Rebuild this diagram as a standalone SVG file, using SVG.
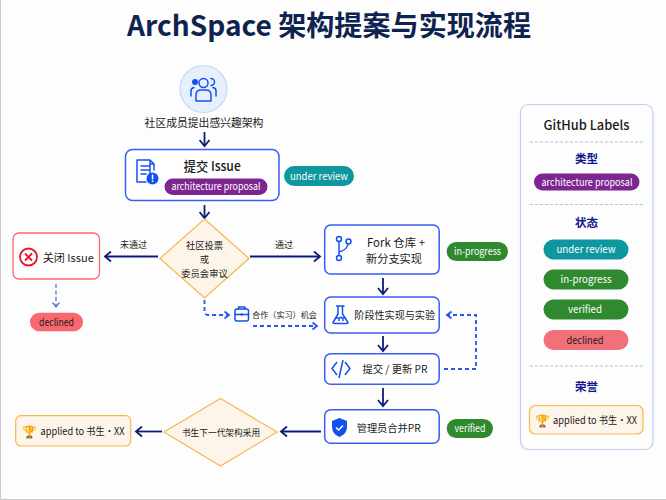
<svg xmlns="http://www.w3.org/2000/svg" width="666" height="500" viewBox="0 0 666 500">
<style>
text{font-family:"Noto Sans CJK SC","Noto Sans",sans-serif;text-anchor:middle;fill:#1a1a1a}
.box{fill:#fff;stroke:#3a5cf8;stroke-width:1.5}
.dia{fill:#fdf5ea;stroke:#f5b84a;stroke-width:1.2}
.ic{fill:none;stroke:#1450f0;stroke-width:1.5;stroke-linecap:round;stroke-linejoin:round}
.fl{stroke:#0f1a78;stroke-width:1.8;fill:none;marker-end:url(#a)}
.dash{stroke:#2a55f0;stroke-width:1.8;fill:none;stroke-dasharray:4 3;marker-end:url(#b)}
.pill{font-size:10px;fill:#fff}
.blk{font-size:10px}
.sec{font-size:11.500px;fill:#14148c;font-weight:700}
.sep{stroke:#a9c3ea;stroke-width:1;stroke-dasharray:3 2}
.cup{font-size:12px;font-family:"DejaVu Sans",sans-serif;fill:#e08a1e}
</style>
<defs>
<marker id="a" markerUnits="userSpaceOnUse" markerWidth="10" markerHeight="12" refX="7" refY="6" orient="auto"><path d="M1 1L7 6L1 11" fill="none" stroke="#0f1a78" stroke-width="1.8"/></marker>
<marker id="b" markerUnits="userSpaceOnUse" markerWidth="8" markerHeight="10" refX="6" refY="5" orient="auto"><path d="M1.500 1.500L6 5L1.500 8.500" fill="none" stroke="#2a55f0" stroke-width="1.800"/></marker>
<marker id="c" markerUnits="userSpaceOnUse" markerWidth="8" markerHeight="10" refX="6" refY="5" orient="auto"><path d="M1.500 1.500L6 5L1.500 8.500" fill="none" stroke="#5a78c8" stroke-width="1.300"/></marker>
</defs>
<rect width="666" height="500" fill="#fdfdfd"/>
<path d="M0.500 0V499.500H666" fill="none" stroke="#c8c8c8"/>
<text x="329" y="36" font-size="28" font-weight="700" style="fill:#0f2350" textLength="404" lengthAdjust="spacingAndGlyphs">ArchSpace 架构提案与实现流程</text>

<g id="connectors">
<path class="fl" d="M204.500 132V146"/>
<path class="fl" d="M204.500 205V218"/>
<path class="fl" d="M158 256.500H105"/>
<path class="fl" d="M250 256.500H320"/>
<path class="fl" d="M383 278V294"/>
<path class="fl" d="M383 336V351"/>
<path class="fl" d="M383 388V406"/>
<path class="fl" d="M321 431.500H281"/>
<path class="fl" d="M162 431.500H136"/>
<path d="M56 284V307" fill="none" stroke="#5a78c8" stroke-width="1.300" stroke-dasharray="4 2.500" marker-end="url(#c)"/>
<path class="dash" d="M204.500 300V311Q204.500 315 208 315H229"/>
<path class="dash" d="M253 326H317"/>
<path class="dash" d="M444 369H476V315H447"/>
</g>

<g id="n-community">
<circle cx="203.500" cy="89" r="23.500" fill="#e6f0fd" stroke="#c3d8f5" stroke-width="1.200"/>
<circle cx="203.500" cy="83" r="4.500" class="ic"/>
<circle cx="195" cy="82" r="3" fill="#1450f0"/>
<path class="ic" d="M211 78.500a3.500 3.500 0 0 1 0 7M196 101V95Q196 90 201 90H206Q211 90 211 95V101ZM191 96V91Q191 88 194 87.500M216 96V91Q216 88 213 87.500"/>
<text x="204" y="127" font-size="10.800">社区成员提出感兴趣架构</text>
</g>

<g id="n-issue">
<rect class="box" x="125.500" y="149.500" width="153.500" height="51" rx="7"/>
<path class="ic" d="M150 176V161Q137 161 137 161V183H146M150 161L154 165V171M150 161V165H154M141 167H149M141 171H149M141 175H146" transform="translate(0 -1)"/>
<circle cx="152.500" cy="178.500" r="6" fill="#1450f0"/>
<rect x="151.800" y="174.500" width="1.500" height="5" fill="#fff"/><rect x="151.800" y="180.500" width="1.500" height="1.500" fill="#fff"/>
<text x="212.300" y="170.500" font-size="13" font-weight="500" textLength="57" lengthAdjust="spacingAndGlyphs">提交 Issue</text>
<rect x="164.500" y="178.500" width="103" height="16.500" rx="8.250" fill="#7d2590"/>
<text x="216" y="190.300" class="pill" textLength="89" lengthAdjust="spacingAndGlyphs">architecture proposal</text>
</g>
<g id="l-under-review"><rect x="284" y="166" width="70" height="20" rx="10" fill="#0e979f"/><text x="319" y="179.800" class="pill" textLength="58" lengthAdjust="spacingAndGlyphs">under review</text></g>

<g id="n-vote">
<polygon class="dia" points="204.500,219 249,258.500 204.500,298 160,258.500"/>
<text x="204.500" y="249" font-size="9.300">社区投票</text>
<text x="204.500" y="263" font-size="9.300">或</text>
<text x="204.500" y="277" font-size="9.300">委员会审议</text>
</g>
<text x="133.500" y="248" font-size="9">未通过</text>
<text x="284" y="248" font-size="9">通过</text>

<g id="n-close">
<rect x="13" y="233" width="86.500" height="46" rx="6" fill="#fff" stroke="#f86a70" stroke-width="1.300"/>
<circle cx="28.500" cy="257" r="8.500" fill="none" stroke="#e8152a" stroke-width="1.800"/>
<path d="M25 253.500L32 260.500M32 253.500L25 260.500" stroke="#e8152a" stroke-width="1.800"/>
<text x="68.300" y="262" font-size="11" textLength="51" lengthAdjust="spacingAndGlyphs">关闭 Issue</text>
</g>
<g id="l-declined"><rect x="30" y="312.700" width="53" height="18.600" rx="9.300" fill="#f7696f"/><text x="56.500" y="325.800" class="blk" textLength="35" lengthAdjust="spacingAndGlyphs">declined</text></g>

<g id="n-fork">
<rect class="box" x="324.700" y="225" width="114.500" height="49" rx="6"/>
<circle cx="339" cy="239" r="2.500" class="ic"/><circle cx="339" cy="258" r="2.500" class="ic"/><circle cx="348.500" cy="241.500" r="2.500" class="ic"/>
<path class="ic" d="M339 241.500V255.500M339 252Q347 250 348 244"/>
<text x="396" y="247" font-size="11.200" textLength="58" lengthAdjust="spacingAndGlyphs">Fork 仓库 +</text>
<text x="394" y="263" font-size="11.200">新分支实现</text>
</g>
<g id="l-in-progress"><rect x="446.700" y="242" width="61.300" height="19" rx="9.500" fill="#2f8a2f"/><text x="477.500" y="255.300" class="pill" textLength="47" lengthAdjust="spacingAndGlyphs">in-progress</text></g>

<g id="n-stage">
<rect class="box" x="324.700" y="297" width="114.500" height="36" rx="6"/>
<path class="ic" d="M336.500 306H344M338 306V314L333 322.500Q333 323.500 334 323.500H347Q348 323.500 348 322.500L342.500 314V306M336 318H345"/>
<circle cx="339" cy="320" r="1" fill="#1450f0"/><circle cx="343" cy="320" r="1" fill="#1450f0"/><circle cx="341" cy="317" r="0.800" fill="#1450f0"/>
<text x="394.700" y="319" font-size="10.100">阶段性实现与实验</text>
</g>

<g id="n-partner">
<rect x="235" y="309" width="13.500" height="12" rx="2" class="ic"/>
<path class="ic" d="M238.500 309V307H245V309M235 314.500H248.500"/>
<circle cx="241.700" cy="314.500" r="1.200" fill="#1450f0"/>
<text x="284.500" y="318" font-size="8.100">合作（实习）机会</text>
</g>

<g id="n-pr">
<rect class="box" x="324.700" y="353.700" width="114.500" height="30.600" rx="6"/>
<path d="M337 362L332 368.500L337 375M345 362L350 368.500L345 375M343 360L339 378" fill="none" stroke="#1450f0" stroke-width="1.500"/>
<text x="395" y="373" font-size="10.500" textLength="65" lengthAdjust="spacingAndGlyphs">提交 / 更新 PR</text>
</g>

<g id="n-merge">
<rect class="box" x="324.700" y="409.700" width="114.500" height="33.600" rx="6"/>
<path d="M339.500 418L347 421V427Q347 434 339.500 437Q332 434 332 427V421Z" fill="#1450f0"/>
<path d="M336 427.500L338.500 430L343 425.500" fill="none" stroke="#fff" stroke-width="1.500"/>
<text x="388.700" y="432" font-size="10.300" textLength="64" lengthAdjust="spacingAndGlyphs">管理员合并PR</text>
</g>
<g id="l-verified"><rect x="446.700" y="419" width="46.300" height="19" rx="9.500" fill="#2f8a2f"/><text x="470" y="432.300" class="pill" textLength="31" lengthAdjust="spacingAndGlyphs">verified</text></g>

<g id="n-adopt">
<polygon class="dia" points="220.500,398.500 277,432 220.500,466 164,432"/>
<text x="221" y="436" font-size="8.700">书生下一代架构采用</text>
</g>
<g id="n-applied">
<rect x="15.700" y="415.700" width="115" height="30.300" rx="5" fill="#fdf5ea" stroke="#f5b84a" stroke-width="1.200"/>
<text x="29.700" y="436" class="cup">🏆</text>
<text x="82.500" y="435" class="blk" textLength="84" lengthAdjust="spacingAndGlyphs">applied to 书生·XX</text>
</g>

<g id="legend">
<rect x="520.500" y="104.500" width="132.500" height="345" rx="8" fill="#fdfdfd" stroke="#bcd0f0" stroke-width="1.200"/>
<text x="586.500" y="130" font-size="13" font-weight="500" textLength="86" lengthAdjust="spacingAndGlyphs">GitHub Labels</text>
<line class="sep" x1="530" y1="142" x2="643" y2="142"/>
<text x="586.500" y="163" class="sec">类型</text>
<rect x="534" y="173.500" width="105.500" height="17" rx="8.500" fill="#7d2590"/>
<text x="587" y="185.800" class="pill" textLength="91" lengthAdjust="spacingAndGlyphs">architecture proposal</text>
<line class="sep" x1="530" y1="204.500" x2="643" y2="204.500"/>
<text x="586.500" y="227" class="sec">状态</text>
<rect x="543.500" y="239.500" width="85" height="20" rx="10" fill="#0e979f"/><text x="586" y="253.300" class="pill" textLength="59" lengthAdjust="spacingAndGlyphs">under review</text>
<rect x="543.500" y="269.500" width="85" height="20" rx="10" fill="#2f8a2f"/><text x="586" y="283.300" class="pill" textLength="51" lengthAdjust="spacingAndGlyphs">in-progress</text>
<rect x="543.500" y="299.500" width="85" height="20" rx="10" fill="#2f8a2f"/><text x="585" y="313.300" class="pill" textLength="34" lengthAdjust="spacingAndGlyphs">verified</text>
<rect x="543.500" y="330" width="85" height="20" rx="10" fill="#f2707a"/><text x="585" y="343.800" class="blk" textLength="37" lengthAdjust="spacingAndGlyphs">declined</text>
<line class="sep" x1="530" y1="366" x2="643" y2="366"/>
<text x="586.500" y="391" class="sec">荣誉</text>
<rect x="529.500" y="405.500" width="113.500" height="28.500" rx="6" fill="#fdf5ea" stroke="#f5b84a" stroke-width="1.200"/>
<text x="542.600" y="425" class="cup">🏆</text>
<text x="595" y="424" class="blk" textLength="84" lengthAdjust="spacingAndGlyphs">applied to 书生·XX</text>
</g>
</svg>
